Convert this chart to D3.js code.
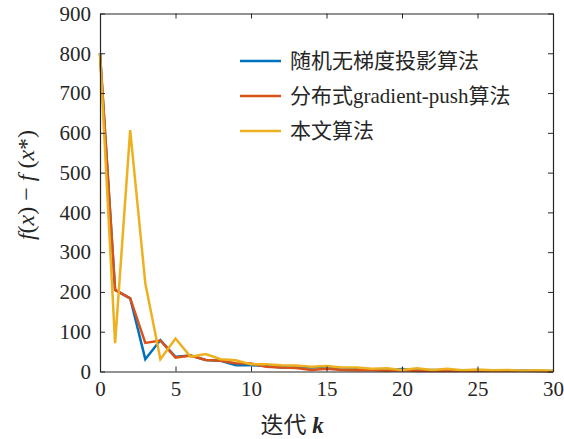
<!DOCTYPE html>
<html>
<head>
<meta charset="utf-8">
<script src="https://cdn.jsdelivr.net/npm/d3@7"></script>
<style>
  body { margin: 0; background: #fff; }
  svg text { font-family: "Liberation Serif", "Times New Roman", serif; fill: #262626; }
</style>
</head>
<body>
<div id="chart"></div>
<script>
// iteration index k = 0..30
var iters = d3.range(0, 31);

// f(x) - f(x*)
var blueVals = [800, 205, 184, 31, 79, 37, 40, 29, 27, 16, 16, 14, 10, 10, 10, 12, 8, 6, 5, 4, 6, 3, 4, 3, 3, 2, 2, 2, 2, 1, 1];
var redVals = [800, 205, 184, 72, 78, 35, 40, 29, 27, 21, 20, 12, 10, 9, 4, 7, 4, 3, 3, 2, 3, 1, 2, 1, 2, 1, 1, 1, 1, 1, 0];
var yellowVals = [800, 71, 607, 222, 31, 83, 37, 44, 31, 28, 18, 18, 16, 15, 12, 14, 10, 10, 7, 8, 4, 8, 4, 7, 3, 5, 3, 4, 2, 3, 2];

var seriesNames = ["随机无梯度投影算法", "分布式gradient-push算法", "本文算法"];
var seriesColors = ["#0072BD", "#D95319", "#EDB120"];

var xTicks = [0, 5, 10, 15, 20, 25, 30];
var yTicks = [0, 100, 200, 300, 400, 500, 600, 700, 800, 900];

var width = 564;
var height = 439;
var plotL = 100, plotR = 553, plotT = 13.5, plotB = 371.5;

var svg = d3.select("#chart")
  .append("svg")
  .attr("width", width)
  .attr("height", height);

var xScale = d3.scaleLinear().domain([0, 30]).range([plotL, plotR]);
var yScale = d3.scaleLinear().domain([0, 900]).range([plotB, plotT]);

var line = d3.line()
  .x(function(d, i) { return xScale(iters[i]); })
  .y(function(d) { return yScale(d); });

// draw lines (blue, red, yellow order so yellow ends on top)
var allSeries = [blueVals, redVals, yellowVals];
allSeries.forEach(function(vals, i) {
  svg.append("path")
    .datum(vals)
    .attr("d", line)
    .attr("fill", "none")
    .attr("stroke", seriesColors[i])
    .attr("stroke-width", 2.5)
    .attr("stroke-linejoin", "miter");
});

// axes with ticks pointing inward, box on
var tickLen = 5;
var xAxis = d3.axisBottom(xScale).tickValues(xTicks).tickSize(-tickLen).tickSizeOuter(0).tickPadding(10);
var yAxis = d3.axisLeft(yScale).tickValues(yTicks).tickSize(-tickLen).tickSizeOuter(0).tickPadding(9);
var xTop = d3.axisTop(xScale).tickValues(xTicks).tickSize(-tickLen).tickSizeOuter(0).tickFormat("");
var yRight = d3.axisRight(yScale).tickValues(yTicks).tickSize(-tickLen).tickSizeOuter(0).tickFormat("");

function styleAxis(g) {
  g.attr("font-family", null);
  g.select(".domain").attr("stroke", "#262626").attr("stroke-width", 1.2);
  g.selectAll(".tick line").attr("stroke", "#262626").attr("stroke-width", 1);
  g.selectAll(".tick text")
    .attr("font-size", 21)
    .attr("fill", "#262626");
}

svg.append("g").attr("transform", "translate(0," + plotB + ")").call(xAxis).call(styleAxis);
svg.append("g").attr("transform", "translate(" + plotL + ",0)").call(yAxis).call(styleAxis);
svg.append("g").attr("transform", "translate(0," + plotT + ")").call(xTop).call(styleAxis);
svg.append("g").attr("transform", "translate(" + plotR + ",0)").call(yRight).call(styleAxis);

// legend
var legend = svg.append("g").attr("class", "legend");
seriesNames.forEach(function(name, i) {
  var ly = 61 + i * 35;
  legend.append("line")
    .attr("x1", 240).attr("x2", 281)
    .attr("y1", ly).attr("y2", ly)
    .attr("stroke", seriesColors[i])
    .attr("stroke-width", 2.5);
  legend.append("text")
    .attr("x", 290)
    .attr("y", ly + 7)
    .attr("font-size", 21)
    .style("font-family", "'Liberation Serif', 'Noto Sans CJK SC', serif")
    .text(name);
});

// x label
var xl = svg.append("text")
  .attr("x", 292)
  .attr("y", 433)
  .attr("text-anchor", "middle")
  .attr("font-size", 23)
  .style("font-family", "'Liberation Serif', 'Noto Sans CJK SC', serif");
xl.append("tspan").text("迭代 ");
xl.append("tspan").attr("font-style", "italic").attr("font-weight", "bold").text("k");

// y label
var yl = svg.append("text")
  .attr("transform", "translate(34,185)rotate(-90)")
  .attr("text-anchor", "middle")
  .attr("font-size", 24)
  .style("font-family", "'Liberation Serif', serif");
yl.append("tspan").attr("font-style", "italic").text("f");
yl.append("tspan").text("(");
yl.append("tspan").attr("font-style", "italic").text("x");
yl.append("tspan").text(") − ");
yl.append("tspan").attr("font-style", "italic").text("f");
yl.append("tspan").text(" (");
yl.append("tspan").attr("font-style", "italic").text("x");
yl.append("tspan").text("*)");
</script>
</body>
</html>
